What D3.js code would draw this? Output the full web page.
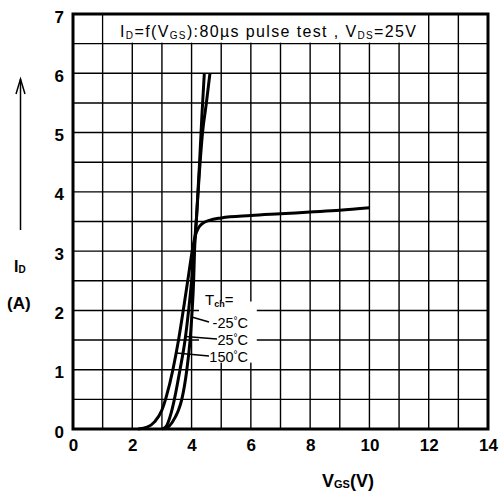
<!DOCTYPE html>
<html>
<head>
<meta charset="utf-8">
<script src="https://cdn.jsdelivr.net/npm/d3@7"></script>
<style>
  body { margin: 0; background: #fff; }
  svg text { font-family: "Liberation Sans", Arial, sans-serif; fill: #000; }
</style>
</head>
<body>
<div id="chart"></div>
<script>
// transfer characteristics

// tick labels
var vgs_ticks = [0, 2, 4, 6, 8, 10, 12, 14];
var id_ticks = [0, 1, 2, 3, 4, 5, 6, 7];

// Tch = -25 C
var vgs_m25 = [3.1, 3.25, 3.45, 3.56, 3.67, 3.84, 3.95, 4.02, 4.07, 4.1, 4.16, 4.27, 4.35, 4.43];
var id_m25  = [0, 0.05, 0.2, 0.32, 0.5, 1.0, 1.5, 2.0, 2.5, 3.0, 3.5, 4.5, 5.3, 6.0];

// Tch = 25 C
var vgs_25 = [3.0, 3.15, 3.3, 3.42, 3.61, 3.78, 3.9, 4.0, 4.08, 4.17, 4.26, 4.37, 4.5, 4.62];
var id_25  = [0, 0.05, 0.25, 0.5, 1.0, 1.5, 2.0, 2.5, 3.0, 3.6, 4.3, 5.0, 5.5, 6.0];

// Tch = 150 C
var vgs_150 = [2.2, 2.5, 2.75, 3.0, 3.15, 3.37, 3.56, 3.75, 3.9, 4.02, 4.12, 4.22, 4.35, 4.6, 5.0, 6.0, 7.0, 8.0, 9.0, 10.0];
var id_150  = [0, 0.03, 0.12, 0.32, 0.55, 1.0, 1.5, 2.1, 2.6, 3.0, 3.25, 3.38, 3.46, 3.52, 3.56, 3.6, 3.63, 3.66, 3.69, 3.73];

// labels and the current where each leader touches its curve
var temp_labels = ["-25°C", "25°C", "150°C"];
var leader_id = [1.89, 1.56, 1.28];

var series = [
  {x: vgs_m25, y: id_m25},
  {x: vgs_25, y: id_25},
  {x: vgs_150, y: id_150}
];

var width = 500, height = 493;

var svg = d3.select("#chart").append("svg")
    .attr("width", width)
    .attr("height", height);

var x = d3.scaleLinear().domain([0, 14]).range([73, 488]);
var y = d3.scaleLinear().domain([0, 7]).range([429, 14]);

// grid
var grid = svg.append("g").attr("class", "grid");

grid.selectAll(".vline")
    .data(d3.range(1, 14))
  .enter().append("line")
    .attr("x1", function(d) { return x(d); })
    .attr("x2", function(d) { return x(d); })
    .attr("y1", y(0))
    .attr("y2", y(7))
    .style("stroke", "#000")
    .style("stroke-width", "1.4px");

grid.selectAll(".hline")
    .data(d3.range(1, 14).map(function(d) { return d / 2; }))
  .enter().append("line")
    .attr("x1", x(0))
    .attr("x2", x(14))
    .attr("y1", function(d) { return y(d); })
    .attr("y2", function(d) { return y(d); })
    .style("stroke", "#000")
    .style("stroke-width", "1.4px");

// blank areas behind the title and the Tch labels
svg.append("rect")
    .attr("x", x(1) + 1)
    .attr("y", y(7))
    .attr("width", x(12) - x(1) - 2)
    .attr("height", y(6.5) - y(7) - 1)
    .style("fill", "#fff");

svg.append("rect")
    .attr("x", x(4.25))
    .attr("y", y(2.15))
    .attr("width", x(6.2) - x(4.25))
    .attr("height", y(1.12) - y(2.15))
    .style("fill", "#fff");

// curves
var line = d3.line()
    .x(function(d) { return x(d[0]); })
    .y(function(d) { return y(d[1]); })
    .curve(d3.curveMonotoneX);

svg.selectAll(".curve")
    .data(series)
  .enter().append("path")
    .attr("class", "curve")
    .attr("d", function(s) { return line(d3.zip(s.x, s.y)); })
    .style("fill", "none")
    .style("stroke", "#000")
    .style("stroke-width", "3px")
    .style("stroke-linejoin", "round");

// frame
svg.append("rect")
    .attr("x", x(0))
    .attr("y", y(7))
    .attr("width", x(14) - x(0))
    .attr("height", y(0) - y(7))
    .style("fill", "none")
    .style("stroke", "#000")
    .style("stroke-width", "3px");

// axes (labels only, the frame is drawn above)
var xAxis = svg.append("g")
    .attr("transform", "translate(0," + (y(0) + 4) + ")")
    .call(d3.axisBottom(x).tickValues(vgs_ticks).tickSize(0).tickFormat(d3.format("d")));
xAxis.select(".domain").remove();
xAxis.selectAll("text")
    .attr("dy", "0")
    .attr("y", 18)
    .style("font-size", "17px")
    .style("font-weight", "bold");

var yAxis = svg.append("g")
    .attr("transform", "translate(" + (x(0) - 6) + ",0)")
    .call(d3.axisLeft(y).tickValues(id_ticks).tickSize(0).tickFormat(d3.format("d")));
yAxis.select(".domain").remove();
yAxis.selectAll("text")
    .attr("dy", "0")
    .attr("y", 8)
    .style("font-size", "17px")
    .style("font-weight", "bold");

// title box text
var title = svg.append("text")
    .attr("x", 120)
    .attr("y", 37)
    .attr("textLength", 296)
    .attr("lengthAdjust", "spacing")
    .style("font-size", "16px");
title.append("tspan").text("I");
title.append("tspan").attr("dy", 2).style("font-size", "10px").text("D");
title.append("tspan").attr("dy", -2).text("=f(V");
title.append("tspan").attr("dy", 2).style("font-size", "10px").text("GS");
title.append("tspan").attr("dy", -2).text("):80µs pulse test , V");
title.append("tspan").attr("dy", 2).style("font-size", "10px").text("DS");
title.append("tspan").attr("dy", -2).text("=25V");

// y axis title with arrow
svg.append("line")
    .attr("x1", 20.5).attr("x2", 20.5)
    .attr("y1", 230).attr("y2", 79)
    .style("stroke", "#000")
    .style("stroke-width", "1.5px");
svg.append("path")
    .attr("d", "M 16 94 L 20.5 79 L 25 94")
    .style("fill", "none")
    .style("stroke", "#000")
    .style("stroke-width", "1.5px");

var yTitle = svg.append("text")
    .attr("x", 14)
    .attr("y", 272)
    .style("font-size", "16px")
    .style("font-weight", "bold");
yTitle.append("tspan").text("I");
yTitle.append("tspan").attr("dy", 1).style("font-size", "10px").text("D");

svg.append("text")
    .attr("x", 7)
    .attr("y", 309)
    .style("font-size", "17px")
    .style("font-weight", "bold")
    .text("(A)");

// x axis title
var xTitle = svg.append("text")
    .attr("x", 322)
    .attr("y", 487)
    .style("font-size", "18px")
    .style("font-weight", "bold");
xTitle.append("tspan").text("V");
xTitle.append("tspan").attr("dy", 1).style("font-size", "11px").text("GS");
xTitle.append("tspan").attr("dy", -1).text("(V)");

// Tch labels
var tch = svg.append("text")
    .attr("x", 205)
    .attr("y", 305)
    .style("font-size", "15px");
tch.append("tspan").text("T");
tch.append("tspan").attr("dy", 2).style("font-size", "9px").style("font-weight", "bold").text("ch");
tch.append("tspan").attr("dy", -2).text("=");

var label_baseline = [328, 345, 362];
var label_left = [210, 218, 210];

function vAtI(s, target) {
  for (var k = 1; k < s.x.length; k++) {
    if (s.y[k] >= target) {
      var t = (target - s.y[k - 1]) / (s.y[k] - s.y[k - 1]);
      return s.x[k - 1] + t * (s.x[k] - s.x[k - 1]);
    }
  }
  return s.x[s.x.length - 1];
}

temp_labels.forEach(function(lbl, k) {
  var vx = vAtI(series[k], leader_id[k]);
  svg.append("line")
      .attr("x1", x(vx))
      .attr("y1", y(leader_id[k]))
      .attr("x2", label_left[k] - 1)
      .attr("y2", label_baseline[k] - 6)
      .style("stroke", "#000")
      .style("stroke-width", "1.5px");

  var t = svg.append("text")
      .attr("x", 248)
      .attr("y", label_baseline[k])
      .attr("text-anchor", "end")
      .style("font-size", "14.5px");
  var parts = lbl.split("°");
  t.append("tspan").text(parts[0]);
  t.append("tspan").attr("dy", -4).style("font-size", "10px").text("°");
  t.append("tspan").attr("dy", 4).text(parts[1]);
});
</script>
</body>
</html>
